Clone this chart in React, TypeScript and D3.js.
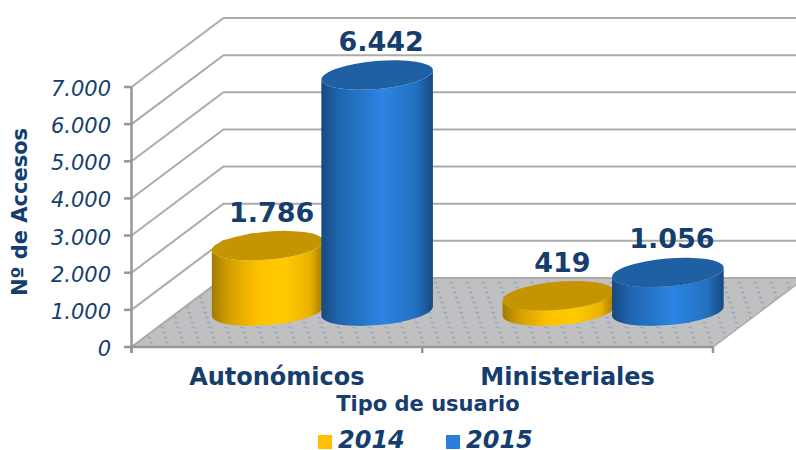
import React from "react";
import * as d3 from "d3";

const categories = ["Autonómicos", "Ministeriales"];
const seriesNames = ["2014", "2015"];
const values2014 = [1786, 419];
const values2015 = [6442, 1056];
const labels2014 = ["1.786", "419"];
const labels2015 = ["6.442", "1.056"];
const yTicks = [0, 1000, 2000, 3000, 4000, 5000, 6000, 7000];
const tickLabels = ["0", "1.000", "2.000", "3.000", "4.000", "5.000", "6.000", "7.000"];

const W = 796, H = 450;
const FL = 131.5, FR = 713, FB = 347, FT = 87;
const DX = 92, DY = 69;
const INK = "#153e6e";
const GRID = "#ababab";
const AXIS = "#969696";
const FONT = "'DejaVu Sans', Verdana, sans-serif";

const y = d3.scaleLinear().domain([0, 7000]).range([FB, FT]);
const depthScale = 0.987;
const x0 = d3.scaleBand<string>().domain(categories).range([FL, FR]);
const x1 = d3.scaleBand<string>().domain(seriesNames).range([-109.5, 109.5]);
const RX = 56, RY = 14, ROT = -5;
const rad = (ROT * Math.PI) / 180;
const ex = RX * Math.cos(rad), ey = RX * Math.sin(rad);
const depth = 0.52;

function Cyl({ cx, base, top, grad, cap }: { cx: number; base: number; top: number; grad: string; cap: string }) {
  const body = `M${cx - ex},${top - ey} L${cx - ex},${base - ey} A${RX},${RY} ${ROT} 0 0 ${cx + ex},${base + ey} L${cx + ex},${top + ey} A${RX},${RY} ${ROT} 0 1 ${cx - ex},${top - ey} Z`;
  return (
    <g>
      <path d={body} fill={`url(#${grad})`} />
      <ellipse cx={cx} cy={top} rx={RX} ry={RY} transform={`rotate(${ROT} ${cx} ${top})`} fill={cap} />
    </g>
  );
}

export default function App() {
  const series = [
    { name: "2014", values: values2014, labels: labels2014, grad: "gOrange", cap: "#c49500", swatch: "#ffc000" },
    { name: "2015", values: values2015, labels: labels2015, grad: "gBlue", cap: "#1f5fa3", swatch: "#2a7fdb" },
  ];
  const base = FB - depth * DY;
  const marks = categories.flatMap((c, i) =>
    series.map((s) => {
      const cx = x0(c)! + x0.bandwidth() / 2 + x1(s.name)! + x1.bandwidth() / 2 + 0.5 * DX - 0.5;
      const top = base - (FB - y(s.values[i])) * depthScale;
      return { key: c + s.name, cx, top, s, label: s.labels[i] };
    })
  );
  return (
    <svg width={W} height={H} style={{ position: "absolute", left: 0, top: 0 }} fontFamily={FONT}>
      <defs>
        <linearGradient id="gOrange" x1="0" x2="1" y1="0" y2="0">
          <stop offset="0" stopColor="#a27a00" />
          <stop offset="0.14" stopColor="#d09d00" />
          <stop offset="0.4" stopColor="#fdc000" />
          <stop offset="0.65" stopColor="#ffcb00" />
          <stop offset="0.88" stopColor="#eab200" />
          <stop offset="1" stopColor="#a27a00" />
        </linearGradient>
        <linearGradient id="gBlue" x1="0" x2="1" y1="0" y2="0">
          <stop offset="0" stopColor="#17497f" />
          <stop offset="0.15" stopColor="#1f64ad" />
          <stop offset="0.55" stopColor="#2c85e2" />
          <stop offset="0.85" stopColor="#2370c0" />
          <stop offset="1" stopColor="#17497f" />
        </linearGradient>
        <pattern id="dots" width="16" height="5" patternUnits="userSpaceOnUse" patternTransform="skewX(18)">
          <rect width="16" height="5" fill="#c0c0c0" />
          <rect x="6" y="2" width="3.4" height="1.4" fill="#86a6c6" />
        </pattern>
      </defs>

      <polygon
        points={`${FL},${FB} ${FL + DX},${FB - DY} ${FR + DX},${FB - DY} ${FR},${FB}`}
        fill="url(#dots)"
        stroke={GRID}
        strokeWidth={1.5}
      />
      {yTicks.map((t) => (
        <polyline
          key={t}
          points={`${FL},${y(t)} ${FL + DX},${y(t) - DY} ${FR + DX},${y(t) - DY}`}
          fill="none"
          stroke={GRID}
          strokeWidth={2}
        />
      ))}

      <line x1={FL} x2={FL} y1={FT} y2={353} stroke={AXIS} strokeWidth={2.5} />
      <line x1={FL} x2={FR} y1={FB} y2={FB} stroke={AXIS} strokeWidth={2.5} />
      {[FL, (FL + FR) / 2, FR].map((v) => (
        <line key={v} x1={v} x2={v} y1={FB} y2={353} stroke={AXIS} strokeWidth={2.5} />
      ))}
      {yTicks.map((t, i) => (
        <g key={t}>
          <line x1={124} x2={FL} y1={y(t)} y2={y(t)} stroke={AXIS} strokeWidth={2.5} />
          <text x={111} y={y(t) + 9} textAnchor="end" fontSize={21} fontStyle="italic" fill={INK}>
            {tickLabels[i]}
          </text>
        </g>
      ))}

      {marks.map((m) => (
        <Cyl key={m.key} cx={m.cx} base={base} top={m.top} grad={m.s.grad} cap={m.s.cap} />
      ))}
      {marks.map((m) => (
        <text key={m.key} x={m.cx + 4} y={m.top - 24} textAnchor="middle" fontSize={27} fontWeight="bold" fill={INK}>
          {m.label}
        </text>
      ))}

      {categories.map((c) => (
        <text key={c} x={x0(c)! + x0.bandwidth() / 2} y={385} textAnchor="middle" fontSize={24} fontWeight="bold" fill={INK}>
          {c}
        </text>
      ))}
      <text x={428} y={411} textAnchor="middle" fontSize={21} fontWeight="bold" fill={INK}>
        Tipo de usuario
      </text>
      <text
        transform="translate(26.5,212) rotate(-90)"
        textAnchor="middle"
        fontSize={21}
        fontWeight="bold"
        fill={INK}
      >
        Nº de Accesos
      </text>

      {series.map((s, i) => {
        const lx = [318, 446][i];
        return (
          <g key={s.name}>
            <rect x={lx} y={435} width={14} height={14} fill={s.swatch} />
            <text x={lx + 20} y={448} fontSize={24} fontWeight="bold" fontStyle="italic" fill={INK}>
              {s.name}
            </text>
          </g>
        );
      })}
    </svg>
  );
}
